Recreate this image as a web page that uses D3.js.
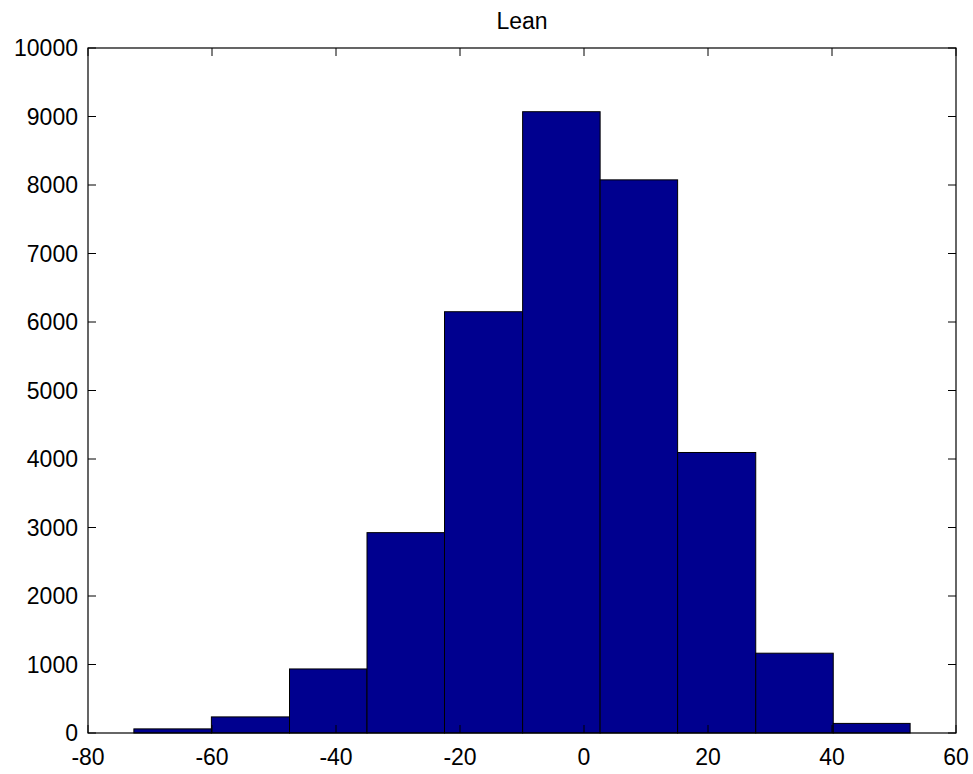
<!DOCTYPE html>
<html>
<head>
<meta charset="utf-8">
<script src="https://cdn.jsdelivr.net/npm/d3@7"></script>
<style>
  html, body { margin: 0; padding: 0; background: #fff; }
  svg { display: block; font-family: "Liberation Sans", Arial, sans-serif; }
</style>
</head>
<body>
<div id="chart"></div>
<script>
// histogram bin edges (lean values) and counts per bin
const binEdges = [-72.6, -60.1, -47.5, -35.0, -22.5, -9.9, 2.6, 15.1, 27.7, 40.2, 52.6];
const counts = [60, 235, 935, 2925, 6150, 9070, 8075, 4095, 1165, 140];
const xTicks = [-80, -60, -40, -20, 0, 20, 40, 60];
const yTicks = [0, 1000, 2000, 3000, 4000, 5000, 6000, 7000, 8000, 9000, 10000];
const title = 'Lean';

const W = 973, H = 774;
const m = { left: 88, right: 17, top: 48, bottom: 41 };
const fs = 23;

const svg = d3.select('#chart').append('svg')
  .attr('width', W).attr('height', H);

const x = d3.scaleLinear().domain([-80, 60]).range([m.left, W - m.right]);
const y = d3.scaleLinear().domain([0, 10000]).range([H - m.bottom, m.top]);

const bins = counts.map((c, i) => ({ x0: binEdges[i], x1: binEdges[i + 1], n: c }));

// bars
svg.append('g').selectAll('rect').data(bins).join('rect')
  .attr('x', d => x(d.x0))
  .attr('y', d => y(d.n))
  .attr('width', d => x(d.x1) - x(d.x0))
  .attr('height', d => y(0) - y(d.n))
  .attr('fill', '#00008f')
  .attr('stroke', '#000')
  .attr('stroke-width', 1);

// ticks pointing inward on all four sides
const tl = 8;
const ax = svg.append('g').attr('stroke', '#000').attr('stroke-width', 1);
yTicks.forEach(t => {
  ax.append('line').attr('x1', x(-80)).attr('x2', x(-80) + tl).attr('y1', y(t)).attr('y2', y(t));
  ax.append('line').attr('x1', x(60)).attr('x2', x(60) - tl).attr('y1', y(t)).attr('y2', y(t));
});
xTicks.forEach(t => {
  ax.append('line').attr('x1', x(t)).attr('x2', x(t)).attr('y1', y(0)).attr('y2', y(0) - tl);
  ax.append('line').attr('x1', x(t)).attr('x2', x(t)).attr('y1', y(10000)).attr('y2', y(10000) + tl);
});

// box
svg.append('rect')
  .attr('x', x(-80)).attr('y', y(10000))
  .attr('width', x(60) - x(-80)).attr('height', y(0) - y(10000))
  .attr('fill', 'none').attr('stroke', '#000').attr('stroke-width', 1.2);

// tick labels
svg.append('g').selectAll('text').data(yTicks).join('text')
  .attr('x', x(-80) - 10).attr('y', d => y(d)).attr('dy', '0.36em')
  .attr('text-anchor', 'end').attr('font-size', fs).text(d => d);

svg.append('g').selectAll('text').data(xTicks).join('text')
  .attr('x', d => x(d)).attr('y', y(0) + 32)
  .attr('text-anchor', 'middle').attr('font-size', fs).text(d => d);

svg.append('text')
  .attr('x', (x(-80) + x(60)) / 2).attr('y', 29)
  .attr('text-anchor', 'middle').attr('font-size', fs).text(title);
</script>
</body>
</html>
